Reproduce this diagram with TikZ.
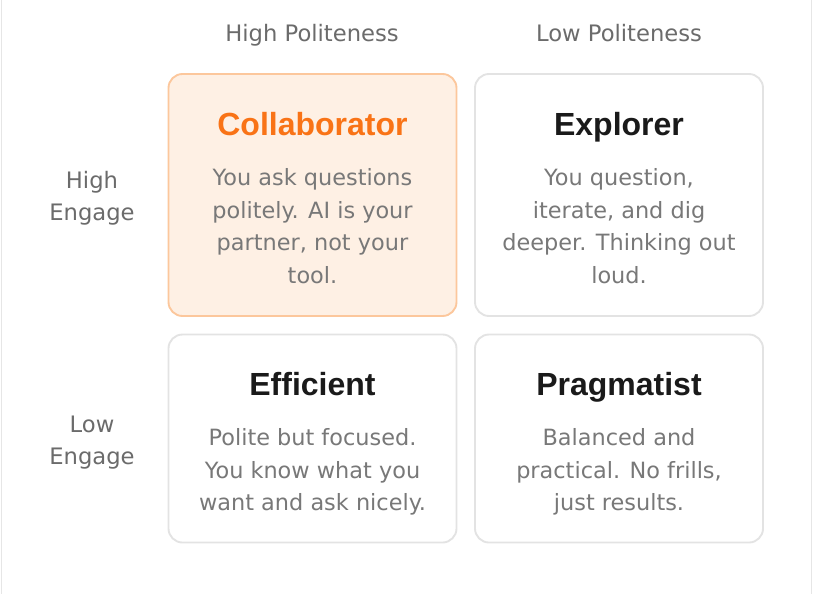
\documentclass[tikz,border=0pt]{standalone}
\usepackage{fontspec}
\setmainfont{DejaVu Sans}
\newfontfamily\ttlfont{Liberation Sans}
\definecolor{hdr}{HTML}{6B6B6B}
\definecolor{body}{HTML}{787878}
\definecolor{ttl}{HTML}{1A1A1A}
\definecolor{org}{HTML}{F97316}
\definecolor{orgfill}{HTML}{FEF0E4}
\definecolor{orgline}{HTML}{FCC79C}
\definecolor{cardline}{HTML}{E3E3E3}
\definecolor{frame}{HTML}{E6E6E6}
\begin{document}
\begin{tikzpicture}[x=0.75pt,y=-0.75pt,
  card/.style={draw=cardline,line width=1.4pt,rounded corners=10.5pt,fill=white,minimum width=216pt,minimum height=181.5pt,inner sep=0pt},
  hicard/.style={card,draw=orgline,fill=orgfill},
  lowcard/.style={card,minimum height=156pt},
  hdrtext/.style={text=hdr,font=\fontsize{17}{24}\selectfont,anchor=base,inner sep=0pt},
  ttltext/.style={text=ttl,font=\ttlfont\fontsize{24}{28}\selectfont\bfseries,anchor=base,inner sep=0pt},
  bodytext/.style={text=body,font=\fontsize{16.8}{24}\selectfont,anchor=base,inner sep=0pt}]
\useasboundingbox (0,0) rectangle (816,594);
\fill[white] (0,0) rectangle (816,594);
\draw[frame,line width=1.2pt] (1.5,0) -- (1.5,594);
\draw[frame,line width=1.2pt] (811.5,0) -- (811.5,594);

\node[hdrtext] (hp) at (312,41.7) {High Politeness};
\node[hdrtext] (lp) at (619,41.7) {Low Politeness};
\node[hdrtext] (he1) at (92,188) {High};
\node[hdrtext] (he2) at (92,220.5) {Engage};
\node[hdrtext] (le1) at (92,432) {Low};
\node[hdrtext] (le2) at (92,464.5) {Engage};

\node[hicard] (c1) at (312.5,195) {};
\node[card] (c2) at (619,195) {};
\node[lowcard] (c3) at (312.5,438.5) {};
\node[lowcard] (c4) at (619,438.5) {};

\node[ttltext,text=org] (t1) at (312.5,135) {Collaborator};
\node[ttltext] (t2) at (619,135) {Explorer};
\node[ttltext] (t3) at (312.5,395) {Efficient};
\node[ttltext] (t4) at (619,395) {Pragmatist};

\foreach \t [count=\i] in {You ask questions,politely. AI is your,{partner, not your},tool.}
  \node[bodytext] (b1-\i) at (312.5,{185.5+32.7*(\i-1)}) {\t};
\foreach \t [count=\i] in {{You question,},{iterate, and dig},deeper. Thinking out,loud.}
  \node[bodytext] (b2-\i) at (619,{185.5+32.7*(\i-1)}) {\t};
\foreach \t [count=\i] in {Polite but focused.,You know what you,want and ask nicely.}
  \node[bodytext] (b3-\i) at (312.5,{445.5+32.7*(\i-1)}) {\t};
\foreach \t [count=\i] in {Balanced and,{practical. No frills,},just results.}
  \node[bodytext] (b4-\i) at (619,{445.5+32.7*(\i-1)}) {\t};
\end{tikzpicture}
\end{document}
